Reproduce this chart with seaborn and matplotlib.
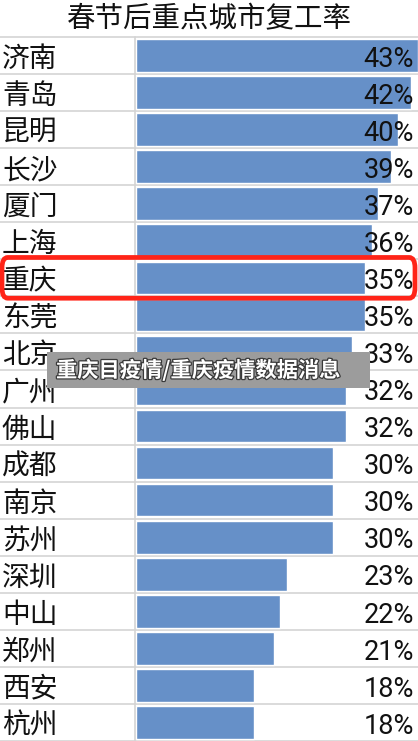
import matplotlib
matplotlib.use("Agg")
import matplotlib.pyplot as plt
import matplotlib.patheffects as pe
from matplotlib.patches import FancyBboxPatch, Rectangle
from matplotlib.lines import Line2D
import matplotlib.transforms as mtransforms
import seaborn as sns
import pandas as pd
import numpy as np

# ---- data ----
title = "春节后重点城市复工率"
cities = ["济南", "青岛", "昆明", "长沙", "厦门", "上海", "重庆", "东莞", "北京", "广州",
          "佛山", "成都", "南京", "苏州", "深圳", "中山", "郑州", "西安", "杭州"]
rates = [43, 42, 40, 39, 37, 36, 35, 35, 33, 32, 32, 30, 30, 30, 23, 22, 21, 18, 18]
highlight_city = "重庆"
watermark = "重庆目疫情/重庆疫情数据消息"

df = pd.DataFrame({"city": cities, "rate": rates})

sns.set_theme(style="white")
plt.rcParams['font.family'] = ['Noto Sans CJK SC', 'DejaVu Sans']

W, H = 418, 741
fig = plt.figure(figsize=(W / 100, H / 100), dpi=100)
fig.patch.set_facecolor("white")

def fx(px):
    return px / W

def fy(py):
    return 1 - py / H

top_px = 37
ax = fig.add_axes([fx(136), 0, fx(282), (H - top_px) / H])
sns.barplot(data=df, x="rate", y="city", orient="h", color="#6690c8",
            saturation=1, width=0.88, ax=ax)
ax.set_xlim(0, 43.05)
ax.set_ylim(len(cities) - 0.5, -0.5)
ax.set_axis_off()

n = len(cities)
grid_c = "#d4d4d4"
blend = mtransforms.blended_transform_factory(fig.transFigure, ax.transData)

# horizontal grid lines across the whole sheet
for b in np.arange(-0.5, n, 1.0):
    fig.add_artist(Line2D([0, 1], [b, b], transform=blend, color=grid_c, lw=1.2, zorder=0))
fig.add_artist(Line2D([fx(135), fx(135)], [fy(top_px), 0], transform=fig.transFigure,
                      color=grid_c, lw=1.2, zorder=0))

# city labels and value labels
for i, (c, v) in enumerate(zip(cities, rates)):
    t = fig.text(fx(2), 0, c, transform=blend, fontsize=20, ha="left", va="center",
                 color="#111111", fontweight="light")
    t.set_y(i + 0.09)
    t = fig.text(fx(414), 0, f"{v}%", transform=blend, fontsize=19.5, ha="right",
                 va="center", color="#111111",
                 family=['Liberation Sans Narrow', 'Roboto', 'DejaVu Sans'])
    t.set_y(i + 0.1)

# title
fig.text(0.5, fy(19), title, fontsize=20.5, ha="center", va="center", color="#111111",
         fontweight="light")

# red highlight box
hi = cities.index(highlight_city)
y0 = ax.transData.transform((0, hi + 0.55))[1] / (H)
y1 = ax.transData.transform((0, hi - 0.55))[1] / (H)
box = FancyBboxPatch((fx(2), y0), fx(413), y1 - y0,
                     boxstyle="round,pad=0,rounding_size=0.014",
                     transform=fig.transFigure, fill=False,
                     edgecolor="#ff2418", lw=3.4, zorder=5)
fig.add_artist(box)

# watermark overlay
fig.add_artist(Rectangle((fx(47), fy(388)), fx(323), fy(352) - fy(388),
                         transform=fig.transFigure, facecolor="#9c9c9c",
                         edgecolor="none", zorder=6))
fig.text(fx(56), fy(370), watermark, fontsize=15.3, fontweight="bold", color="white",
         ha="left", va="center", zorder=7,
         path_effects=[pe.withStroke(linewidth=1.8, foreground="#3a3a3a")])

fig.savefig("out.png", dpi=100)
